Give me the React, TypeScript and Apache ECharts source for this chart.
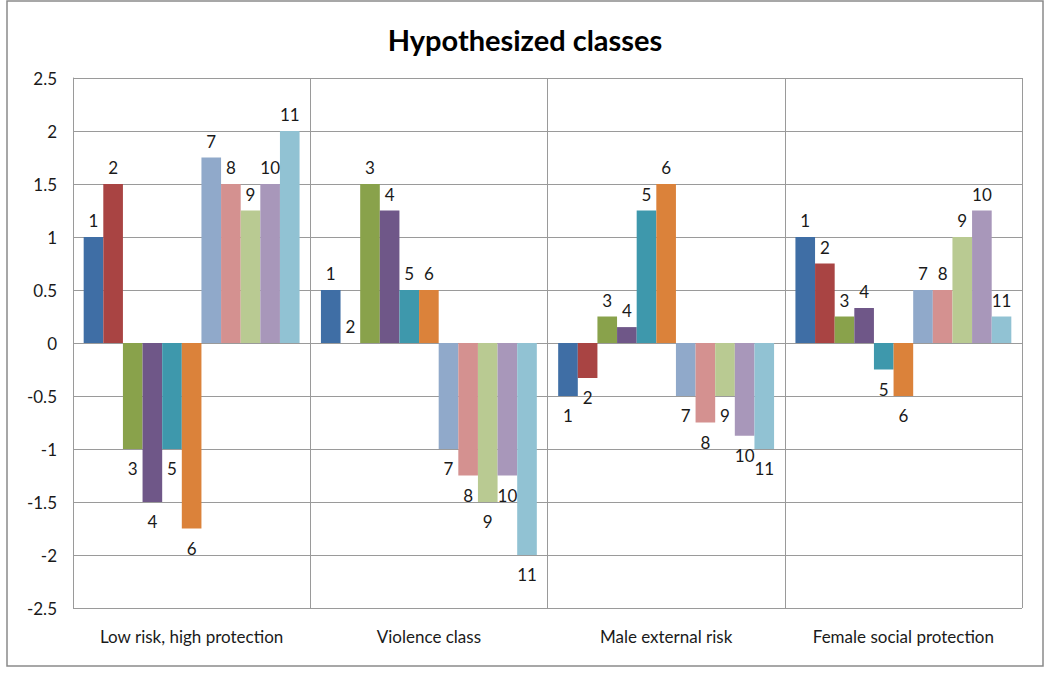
import React, { useEffect, useRef } from "react";
import * as echarts from "echarts";

const categories = [
  "Low risk, high protection",
  "Violence class",
  "Male external risk",
  "Female social protection",
];

const seriesNames = ["1", "2", "3", "4", "5", "6", "7", "8", "9", "10", "11"];

// values per series, across the 4 categories
const s1 = [1, 0.5, -0.5, 1];
const s2 = [1.5, 0, -0.33, 0.75];
const s3 = [-1, 1.5, 0.25, 0.25];
const s4 = [-1.5, 1.25, 0.15, 0.33];
const s5 = [-1, 0.5, 1.25, -0.25];
const s6 = [-1.75, 0.5, 1.5, -0.5];
const s7 = [1.75, -1, -0.5, 0.5];
const s8 = [1.5, -1.25, -0.75, 0.5];
const s9 = [1.25, -1.5, -0.5, 1];
const s10 = [1.5, -1.25, -0.875, 1.25];
const s11 = [2, -2, -1, 0.25];

const seriesValues = [s1, s2, s3, s4, s5, s6, s7, s8, s9, s10, s11];

const colors = [
  "#3F6EA5",
  "#A94443",
  "#89A24B",
  "#6F5788",
  "#3E98AC",
  "#DB823A",
  "#90A9CA",
  "#D49190",
  "#B9CA92",
  "#A897BA",
  "#91C2D3",
];

const FONT = "Lato, 'Open Sans', sans-serif";

export default function App() {
  const ref = useRef<HTMLDivElement>(null);

  useEffect(() => {
    if (!ref.current) return;
    const chart = echarts.init(ref.current, null, { renderer: "svg" });

    const series = seriesNames.map((name, i) => ({
      name,
      type: "bar",
      barGap: "0%",
      barCategoryGap: "9%",
      itemStyle: { color: colors[i] },
      data: seriesValues[i].map((v) => ({
        value: v,
        label: {
          position: v < 0 ? "bottom" : "top",
          distance: v < 0 ? 11 : 8,
        },
      })),
      label: {
        show: true,
        formatter: () => name,
        color: "#1a1a1a",
        fontSize: 17,
        fontFamily: FONT,
      },
    }));

    chart.setOption({
      animation: false,
      backgroundColor: "#ffffff",
      title: {
        text: "Hypothesized classes",
        left: "center",
        top: 20,
        textStyle: {
          fontFamily: FONT,
          fontWeight: "bold",
          fontSize: 29,
          color: "#000000",
        },
      },
      graphic: [
        {
          type: "rect",
          shape: { x: 7, y: 1, width: 1036, height: 665 },
          style: { fill: "none", stroke: "#8a8a8a", lineWidth: 1.5 },
          silent: true,
        },
      ],
      grid: { left: 73, right: 28, top: 78, bottom: 70 },
      xAxis: {
        type: "category",
        data: categories,
        position: "bottom",
        axisLine: { show: false },
        axisTick: { show: false },
        splitLine: {
          show: true,
          interval: 0,
          lineStyle: { color: "#9a9a9a", width: 1 },
        },
        axisLabel: {
          interval: 0,
          margin: 20,
          fontSize: 17,
          fontFamily: FONT,
          color: "#1a1a1a",
        },
      },
      yAxis: {
        type: "value",
        min: -2.5,
        max: 2.5,
        interval: 0.5,
        axisLine: { show: true, lineStyle: { color: "#9a9a9a" } },
        axisTick: { show: false },
        splitLine: { show: true, lineStyle: { color: "#9a9a9a", width: 1 } },
        axisLabel: {
          margin: 16,
          fontSize: 17,
          fontFamily: FONT,
          color: "#1a1a1a",
        },
      },
      series,
    });

    return () => chart.dispose();
  }, []);

  return (
    <div
      ref={ref}
      style={{ position: "absolute", left: 0, top: 0, width: 1050, height: 678 }}
    />
  );
}
